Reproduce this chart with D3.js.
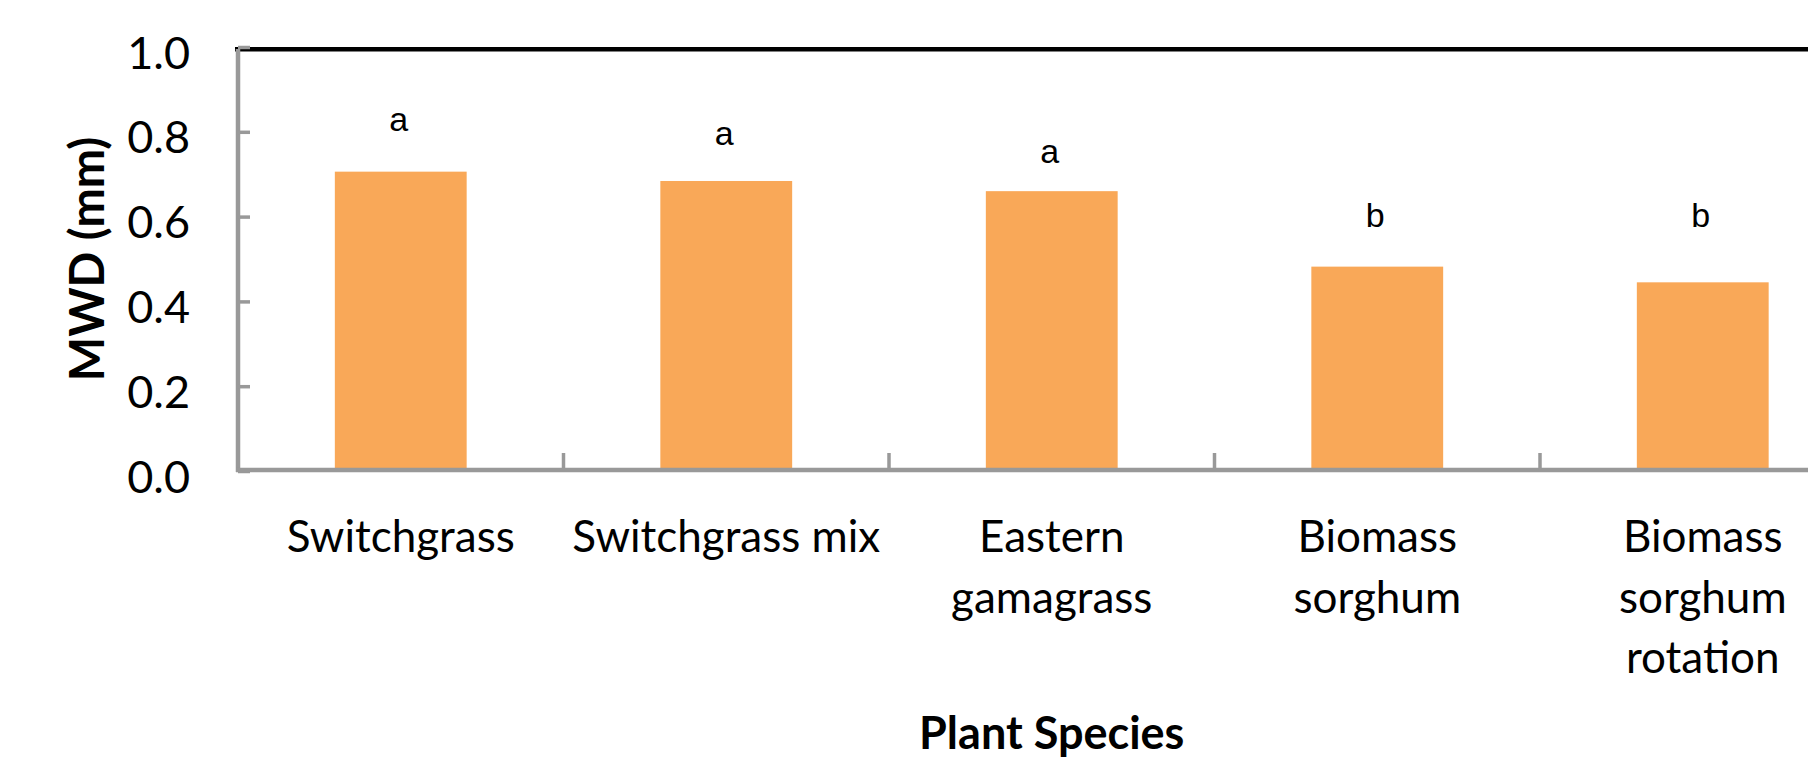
<!DOCTYPE html>
<html>
<head>
<meta charset="utf-8">
<script src="https://cdn.jsdelivr.net/npm/d3@7"></script>
<style>
  html, body { margin: 0; padding: 0; background: #ffffff; }
  svg { display: block; }
</style>
</head>
<body>
<script>
// ---- data ----
const categories = ["Switchgrass", "Switchgrass mix", "Eastern gamagrass", "Biomass sorghum", "Biomass sorghum rotation"];
const categoryLines = [["Switchgrass"], ["Switchgrass mix"], ["Eastern", "gamagrass"], ["Biomass", "sorghum"], ["Biomass", "sorghum", "rotation"]];
const mwdValues = [0.706, 0.684, 0.660, 0.482, 0.445];
const letters = ["a", "a", "a", "b", "b"];
const letterLevels = [0.803, 0.768, 0.727, 0.576, 0.576];
const yTicks = [0.0, 0.2, 0.4, 0.6, 0.8, 1.0];
const yTitle = "MWD (mm)";
const xTitle = "Plant Species";

// ---- layout ----
const W = 1808, H = 760;
const axisGray = "#999999";
const barColor = "#F9A858";
const font = "Lato, 'Open Sans', sans-serif";

const svg = d3.select("body").append("svg").attr("width", W).attr("height", H);

const x0 = 238, step = 325.5;
const x = d3.scaleBand()
  .domain(categories)
  .range([x0, x0 + step * categories.length])
  .paddingInner(0.595)
  .paddingOuter(0.2975);

const y = d3.scaleLinear().domain([0, 1]).range([471, 47]);

// top black border line
svg.append("line")
  .attr("x1", x0 - 3).attr("x2", W)
  .attr("y1", y(1) + 2.3).attr("y2", y(1) + 2.3)
  .attr("stroke", "#000").attr("stroke-width", 4.5);

// bars
svg.append("g").selectAll("rect")
  .data(categories)
  .join("rect")
  .attr("x", d => x(d))
  .attr("y", (d, i) => y(mwdValues[i]))
  .attr("width", x.bandwidth())
  .attr("height", (d, i) => y(0) - y(mwdValues[i]))
  .attr("fill", barColor);

// y axis
const yAxis = d3.axisLeft(y)
  .tickValues(yTicks)
  .tickFormat(d3.format(".1f"))
  .tickSizeInner(-12)
  .tickSizeOuter(0)
  .tickPadding(48);

const gy = svg.append("g")
  .attr("transform", `translate(${x0},0)`)
  .call(yAxis);
gy.select(".domain")
  .attr("stroke", axisGray).attr("stroke-width", 4.5)
  .attr("d", `M0,${y(1) + 2}V${y(0) + 1}`);
gy.selectAll(".tick line").attr("stroke", axisGray).attr("stroke-width", 3.5);
gy.selectAll(".tick text")
  .attr("dy", null).attr("y", 21)
  .attr("fill", "#000")
  .style("font-family", font).style("font-size", "45px");

// x axis baseline
svg.append("line")
  .attr("x1", x0 - 2).attr("x2", W)
  .attr("y1", y(0) - 1).attr("y2", y(0) - 1)
  .attr("stroke", axisGray).attr("stroke-width", 4.5);

// category boundary ticks
const bounds = d3.range(1, categories.length).map(i => x.range()[0] + i * x.step());
svg.append("g").selectAll("line")
  .data(bounds)
  .join("line")
  .attr("x1", d => d).attr("x2", d => d)
  .attr("y1", y(0) - 1).attr("y2", y(0) - 18)
  .attr("stroke", axisGray).attr("stroke-width", 3.5);

// category labels
const catG = svg.append("g").selectAll("text")
  .data(categories)
  .join("text")
  .attr("text-anchor", "middle")
  .attr("fill", "#000")
  .style("font-family", font).style("font-size", "44px");
catG.each(function (d, i) {
  const t = d3.select(this);
  categoryLines[i].forEach((line, j) => {
    t.append("tspan")
      .attr("x", x(d) + x.bandwidth() / 2)
      .attr("y", 552 + j * 60.5)
      .text(line);
  });
});

// significance letters
svg.append("g").selectAll("text")
  .data(categories)
  .join("text")
  .attr("x", d => x(d) + x.bandwidth() / 2 - 2)
  .attr("y", (d, i) => y(letterLevels[i]))
  .attr("text-anchor", "middle")
  .attr("fill", "#000")
  .style("font-family", "'Liberation Sans', Arial, sans-serif")
  .style("font-size", "34px")
  .text((d, i) => letters[i]);

// y title
svg.append("text")
  .attr("transform", `translate(104,259) rotate(-90)`)
  .attr("text-anchor", "middle")
  .attr("fill", "#000")
  .style("font-family", font).style("font-weight", "bold").style("font-size", "47px")
  .text(yTitle);

// x title
svg.append("text")
  .attr("x", (x.range()[0] + x.range()[1]) / 2)
  .attr("y", 749)
  .attr("text-anchor", "middle")
  .attr("fill", "#000")
  .style("font-family", font).style("font-weight", "bold").style("font-size", "45px")
  .text(xTitle);
</script>
</body>
</html>
